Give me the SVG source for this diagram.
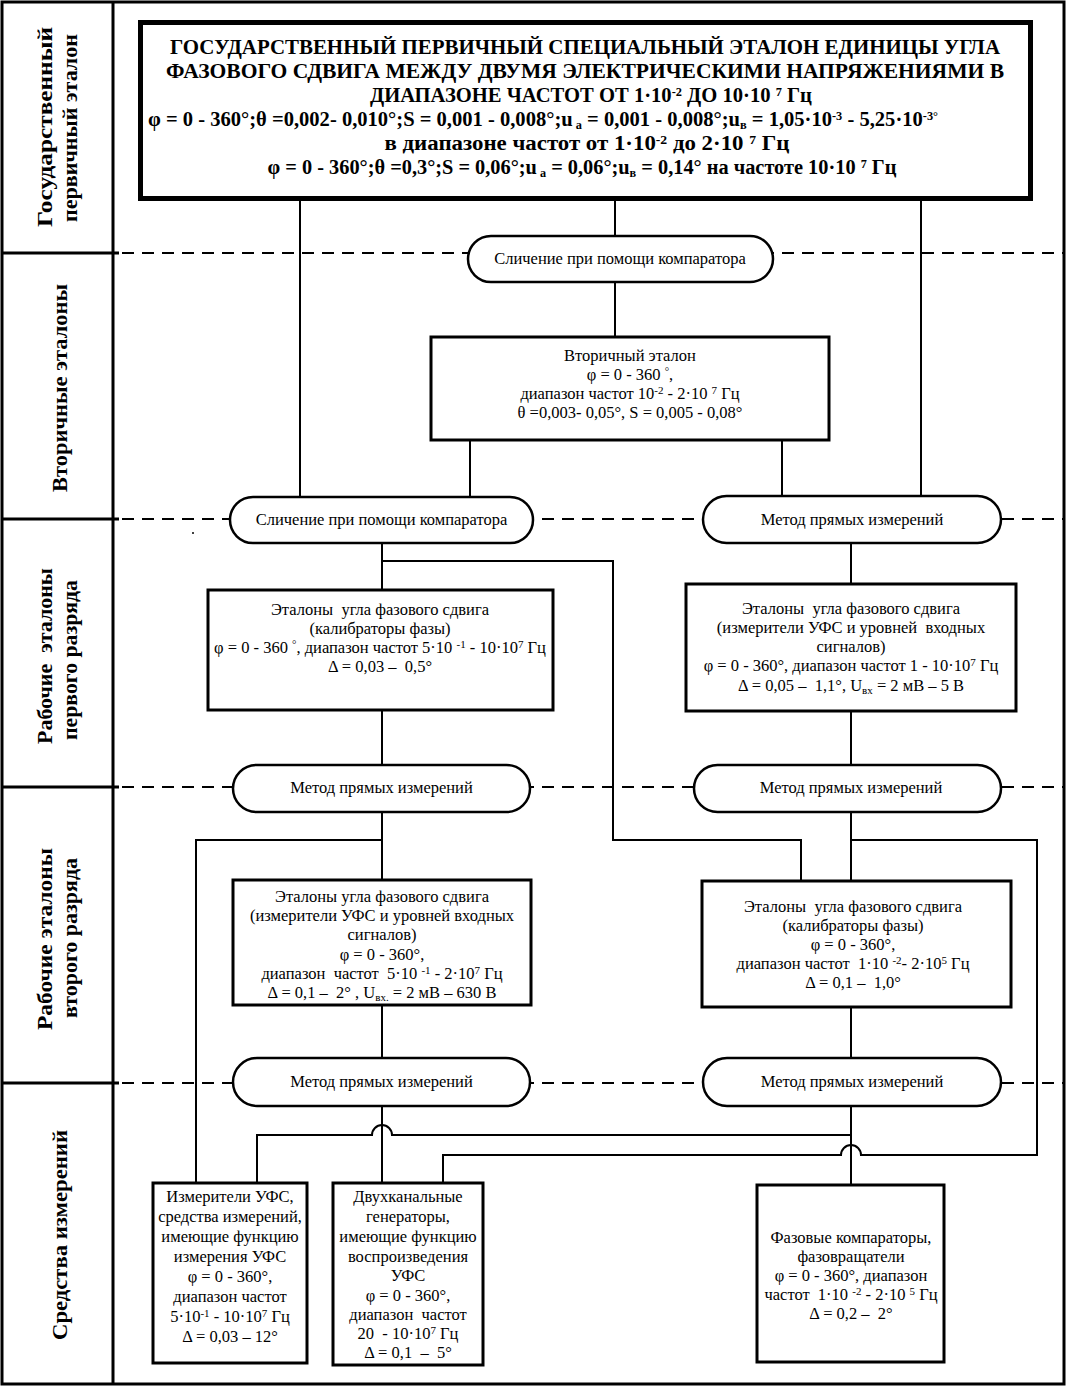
<svg xmlns="http://www.w3.org/2000/svg" width="1067" height="1387" viewBox="0 0 1067 1387">
<style>
.frame{fill:none;stroke:#000;stroke-width:3}
.sep{stroke:#000;stroke-width:3}
.dash{stroke:#000;stroke-width:2;stroke-dasharray:12 8}
.box{fill:#fff;stroke:#000;stroke-width:3}
.tbox{fill:#fff;stroke:#000;stroke-width:5}
.stad{fill:#fff;stroke:#000;stroke-width:2.5}
.ln{fill:none;stroke:#000;stroke-width:2}
.t{font-family:"Liberation Serif","Times New Roman",serif;font-size:16.5px;text-anchor:middle;fill:#000}
.tt{font-family:"Liberation Serif","Times New Roman",serif;font-size:20px;font-weight:bold;text-anchor:middle;fill:#000}
.lb{font-family:"Liberation Serif","Times New Roman",serif;font-size:22px;font-weight:bold;text-anchor:middle;fill:#000}
.sp{font-size:11px}
.spt{font-size:12px}
</style>
<rect width="1067" height="1387" fill="#fff"/>
<g id="frame">
<rect class="frame" x="2" y="2" width="1062" height="1382"/>
<line class="sep" x1="113" y1="2" x2="113" y2="1385"/>
<line class="sep" x1="2" y1="253" x2="119" y2="253"/>
<line class="sep" x1="2" y1="519" x2="119" y2="519"/>
<line class="sep" x1="2" y1="787" x2="119" y2="787"/>
<line class="sep" x1="2" y1="1083" x2="119" y2="1083"/>
<line class="dash" x1="122" y1="253" x2="1064" y2="253"/>
<line class="dash" x1="122" y1="519" x2="1064" y2="519"/>
<line class="dash" x1="122" y1="787" x2="1064" y2="787"/>
<line class="dash" x1="122" y1="1083" x2="1064" y2="1083"/>
<circle cx="193" cy="533" r="1" fill="#000"/>
</g>
<g id="levels">
<text class="lb" transform="translate(52,127) rotate(-90)" textLength="200" lengthAdjust="spacingAndGlyphs">Государственный</text>
<text class="lb" transform="translate(77,128) rotate(-90)" textLength="188" lengthAdjust="spacingAndGlyphs">первичный эталон</text>
<text class="lb" transform="translate(67,388) rotate(-90)" textLength="208" lengthAdjust="spacingAndGlyphs">Вторичные эталоны</text>
<text class="lb" transform="translate(52,656) rotate(-90)" textLength="176" lengthAdjust="spacingAndGlyphs">Рабочие&#160; эталоны</text>
<text class="lb" transform="translate(77,660) rotate(-90)" textLength="160" lengthAdjust="spacingAndGlyphs">первого разряда</text>
<text class="lb" transform="translate(52,939) rotate(-90)" textLength="182" lengthAdjust="spacingAndGlyphs">Рабочие эталоны</text>
<text class="lb" transform="translate(77,938) rotate(-90)" textLength="160" lengthAdjust="spacingAndGlyphs">второго разряда</text>
<text class="lb" transform="translate(67,1235) rotate(-90)" textLength="210" lengthAdjust="spacingAndGlyphs">Средства измерений</text>
</g>
<g id="connectors">
<path class="ln" d="M615 200V236M615 282V337"/>
<path class="ln" d="M300 200V497"/>
<path class="ln" d="M921 200V496"/>
<path class="ln" d="M470 440V497M782 440V496"/>
<path class="ln" d="M382 543V590"/>
<path class="ln" d="M382 561H613V840H801V881"/>
<path class="ln" d="M851 543V584"/>
<path class="ln" d="M382 710V765M851 711V765"/>
<path class="ln" d="M382 812V880"/>
<path class="ln" d="M382 840H196V1183"/>
<path class="ln" d="M851 812V881"/>
<path class="ln" d="M851 840H1037V1155H861A10 10 0 0 0 841 1155H443V1183"/>
<path class="ln" d="M382 1005V1058M851 1007V1058"/>
<path class="ln" d="M382 1106V1183"/>
<path class="ln" d="M851 1106V1185"/>
<path class="ln" d="M851 1135H392A10 10 0 0 0 372 1135H257V1183"/>
</g>
<g id="title">
<rect class="tbox" x="140.5" y="22.5" width="890" height="176"/>
<text class="tt" x="585" y="54" textLength="830" lengthAdjust="spacingAndGlyphs">ГОСУДАРСТВЕННЫЙ ПЕРВИЧНЫЙ СПЕЦИАЛЬНЫЙ ЭТАЛОН ЕДИНИЦЫ УГЛА</text>
<text class="tt" x="585" y="78" textLength="838" lengthAdjust="spacingAndGlyphs">ФАЗОВОГО СДВИГА МЕЖДУ ДВУМЯ ЭЛЕКТРИЧЕСКИМИ НАПРЯЖЕНИЯМИ В</text>
<text class="tt" x="591" y="102" textLength="442" lengthAdjust="spacingAndGlyphs">ДИАПАЗОНЕ ЧАСТОТ ОТ 1·10<tspan class="spt" dy="-6">-2</tspan><tspan dy="6"> ДО 10·10 </tspan><tspan class="spt" dy="-6">7</tspan><tspan dy="6"> Гц</tspan></text>
<text class="tt" x="543" y="126" textLength="790" lengthAdjust="spacingAndGlyphs">φ = 0 - 360°;θ =0,002- 0,010°;S = 0,001 - 0,008°;u<tspan class="spt" dy="3"> а</tspan><tspan dy="-3"> = 0,001 - 0,008°;u</tspan><tspan class="spt" dy="3">в</tspan><tspan dy="-3"> = 1,05·10</tspan><tspan class="spt" dy="-6">-3</tspan><tspan dy="6"> - 5,25·10</tspan><tspan class="spt" dy="-6">-3°</tspan></text>
<text class="tt" x="587" y="150" textLength="405" lengthAdjust="spacingAndGlyphs">в диапазоне частот от 1·10<tspan class="spt" dy="-6">-2</tspan><tspan dy="6"> до 2·10 </tspan><tspan class="spt" dy="-6">7</tspan><tspan dy="6"> Гц</tspan></text>
<text class="tt" x="582" y="174" textLength="629" lengthAdjust="spacingAndGlyphs">φ = 0 - 360°;θ =0,3°;S = 0,06°;u<tspan class="spt" dy="3"> а</tspan><tspan dy="-3"> = 0,06°;u</tspan><tspan class="spt" dy="3">в</tspan><tspan dy="-3"> = 0,14° на частоте 10·10 </tspan><tspan class="spt" dy="-6">7</tspan><tspan dy="6"> Гц</tspan></text>
</g>
<g id="cmp1">
<rect class="stad" x="468" y="236" width="305" height="46" rx="23"/>
<text class="t" x="620" y="264">Сличение при помощи компаратора</text>
</g>
<g id="secondary">
<rect class="box" x="431" y="337" width="398" height="103"/>
<text class="t" x="630" y="361">Вторичный эталон</text>
<text class="t" x="630" y="380">φ = 0 - 360 <tspan class="sp" dy="-5">°</tspan><tspan dy="5">,</tspan></text>
<text class="t" x="630" y="399">диапазон частот 10<tspan class="sp" dy="-5">-2</tspan><tspan dy="5"> - 2·10 </tspan><tspan class="sp" dy="-5">7</tspan><tspan dy="5"> Гц</tspan></text>
<text class="t" x="630" y="418">θ =0,003- 0,05°, S = 0,005 - 0,08°</text>
</g>
<g id="cmp2">
<rect class="stad" x="230" y="497" width="303" height="46" rx="23"/>
<text class="t" x="381.5" y="525">Сличение при помощи компаратора</text>
</g>
<g id="direct1">
<rect class="stad" x="703" y="496" width="298" height="47" rx="23.5"/>
<text class="t" x="852" y="525">Метод прямых измерений</text>
</g>
<g id="rank1-calibrators">
<rect class="box" x="208" y="590" width="345" height="120"/>
<text class="t" x="380" y="615">Эталоны&#160; угла фазового сдвига</text>
<text class="t" x="380" y="634">(калибраторы фазы)</text>
<text class="t" x="380" y="653">φ = 0 - 360 <tspan class="sp" dy="-5">°</tspan><tspan dy="5">, диапазон частот 5·10 </tspan><tspan class="sp" dy="-5">-1</tspan><tspan dy="5"> - 10·10</tspan><tspan class="sp" dy="-5">7</tspan><tspan dy="5"> Гц</tspan></text>
<text class="t" x="380" y="672">Δ = 0,03 –&#160; 0,5°</text>
</g>
<g id="rank1-meters">
<rect class="box" x="686" y="584" width="330" height="127"/>
<text class="t" x="851" y="614">Эталоны&#160; угла фазового сдвига</text>
<text class="t" x="851" y="633">(измерители УФС и уровней&#160; входных</text>
<text class="t" x="851" y="652">сигналов)</text>
<text class="t" x="851" y="671">φ = 0 - 360°, диапазон частот 1 - 10·10<tspan class="sp" dy="-5">7</tspan><tspan dy="5"> Гц</tspan></text>
<text class="t" x="851" y="691">Δ = 0,05 –&#160; 1,1°, U<tspan class="sp" dy="3">вх</tspan><tspan dy="-3"> = 2 мВ – 5 В</tspan></text>
</g>
<g id="direct2">
<rect class="stad" x="233" y="765" width="297" height="47" rx="23.5"/>
<text class="t" x="381.5" y="793">Метод прямых измерений</text>
</g>
<g id="direct3">
<rect class="stad" x="694" y="765" width="307" height="47" rx="23.5"/>
<text class="t" x="851" y="793">Метод прямых измерений</text>
</g>
<g id="rank2-meters">
<rect class="box" x="233" y="880" width="298" height="125"/>
<text class="t" x="382" y="902">Эталоны угла фазового сдвига</text>
<text class="t" x="382" y="921">(измерители УФС и уровней входных</text>
<text class="t" x="382" y="940">сигналов)</text>
<text class="t" x="382" y="960">φ = 0 - 360°,</text>
<text class="t" x="382" y="979">диапазон&#160; частот&#160; 5·10 <tspan class="sp" dy="-5">-1</tspan><tspan dy="5"> - 2·10</tspan><tspan class="sp" dy="-5">7</tspan><tspan dy="5"> Гц</tspan></text>
<text class="t" x="382" y="998">Δ = 0,1 –&#160; 2° , U<tspan class="sp" dy="3">вх.</tspan><tspan dy="-3"> = 2 мВ – 630 В</tspan></text>
</g>
<g id="rank2-calibrators">
<rect class="box" x="702" y="881" width="309" height="126"/>
<text class="t" x="853" y="912">Эталоны&#160; угла фазового сдвига</text>
<text class="t" x="853" y="931">(калибраторы фазы)</text>
<text class="t" x="853" y="950">φ = 0 - 360°,</text>
<text class="t" x="853" y="969">диапазон частот&#160; 1·10 <tspan class="sp" dy="-5">-2</tspan><tspan dy="5">- 2·10</tspan><tspan class="sp" dy="-5">5</tspan><tspan dy="5"> Гц</tspan></text>
<text class="t" x="853" y="988">Δ = 0,1 –&#160; 1,0°</text>
</g>
<g id="direct4">
<rect class="stad" x="233" y="1058" width="297" height="48" rx="24"/>
<text class="t" x="381.5" y="1087">Метод прямых измерений</text>
</g>
<g id="direct5">
<rect class="stad" x="703" y="1058" width="298" height="48" rx="24"/>
<text class="t" x="852" y="1087">Метод прямых измерений</text>
</g>
<g id="meters">
<rect class="box" x="153" y="1183" width="154" height="180"/>
<text class="t" x="230" y="1202">Измерители УФС,</text>
<text class="t" x="230" y="1222">средства измерений,</text>
<text class="t" x="230" y="1242">имеющие функцию</text>
<text class="t" x="230" y="1262">измерения УФС</text>
<text class="t" x="230" y="1282">φ = 0 - 360°,</text>
<text class="t" x="230" y="1302">диапазон частот</text>
<text class="t" x="230" y="1322">5·10<tspan class="sp" dy="-5">-1</tspan><tspan dy="5"> - 10·10</tspan><tspan class="sp" dy="-5">7</tspan><tspan dy="5"> Гц</tspan></text>
<text class="t" x="230" y="1342">Δ = 0,03 – 12°</text>
</g>
<g id="generators">
<rect class="box" x="333" y="1183" width="150" height="182"/>
<text class="t" x="408" y="1202">Двухканальные</text>
<text class="t" x="408" y="1222">генераторы,</text>
<text class="t" x="408" y="1242">имеющие функцию</text>
<text class="t" x="408" y="1262">воспроизведения</text>
<text class="t" x="408" y="1281">УФС</text>
<text class="t" x="408" y="1301">φ = 0 - 360°,</text>
<text class="t" x="408" y="1320">диапазон&#160; частот</text>
<text class="t" x="408" y="1339">20&#160; - 10·10<tspan class="sp" dy="-5">7</tspan><tspan dy="5"> Гц</tspan></text>
<text class="t" x="408" y="1358">Δ = 0,1&#160; –&#160; 5°</text>
</g>
<g id="comparators">
<rect class="box" x="757" y="1185" width="187" height="177"/>
<text class="t" x="851" y="1243">Фазовые компараторы,</text>
<text class="t" x="851" y="1262">фазовращатели</text>
<text class="t" x="851" y="1281">φ = 0 - 360°, диапазон</text>
<text class="t" x="851" y="1300">частот&#160; 1·10 <tspan class="sp" dy="-5">-2</tspan><tspan dy="5"> - 2·10 </tspan><tspan class="sp" dy="-5">5</tspan><tspan dy="5"> Гц</tspan></text>
<text class="t" x="851" y="1319">Δ = 0,2 –&#160; 2°</text>
</g>
</svg>
